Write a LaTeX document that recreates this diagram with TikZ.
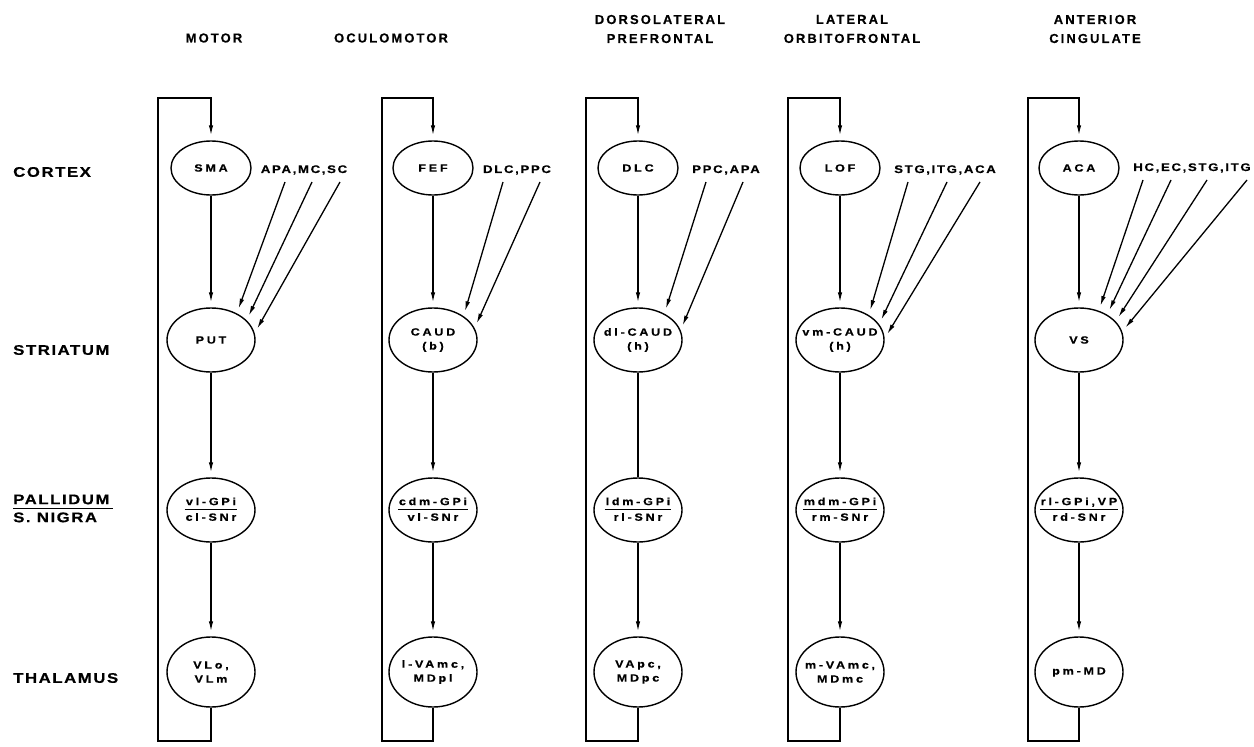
\documentclass[tikz,border=0pt]{standalone}
\usepackage{fontspec}
\setmainfont{Liberation Sans}
% lettering: wide, tracked, heavy sans capitals
\newfontfamily\titlefont{Liberation Sans Bold}[LetterSpace=16,FakeBold=0.4]
\newfontfamily\rowfont{Liberation Sans Bold}[FakeStretch=1.2,LetterSpace=11,FakeBold=0.5]
\newfontfamily\inlfont{Liberation Sans Bold}[FakeStretch=1.2,LetterSpace=26,FakeBold=0.5]
\newfontfamily\srcfont{Liberation Sans Bold}[FakeStretch=1.2,LetterSpace=15,FakeBold=0.5]
\usetikzlibrary{shapes.geometric,arrows.meta}

% two-part label with a rule between the parts
\newcommand\splitlabel[2]{{\setlength\arrayrulewidth{1.2pt}\renewcommand\arraystretch{1.05}%
  \begin{tabular}{@{\hspace{1pt}}c@{\hspace{1pt}}}#1\\[-1pt]\hline\rule{0pt}{11pt}#2\end{tabular}}}

\tikzset{
  region/.style={ellipse, draw, line width=1.4pt, inner xsep=-24pt, inner ysep=0pt, align=center,
    font=\inlfont\fontsize{10.5}{14}\selectfont},
  ctx/.style={region, minimum width=80pt, minimum height=54pt},
  strn/.style={region, minimum width=88pt, minimum height=64pt},
  paln/.style={region, minimum width=88pt, minimum height=64pt},
  thaln/.style={region, minimum width=88pt, minimum height=70pt},
  conn/.style={line width=1.3pt},
  arr/.style={conn, -{Latex[length=10pt,width=4.5pt]}, shorten >=5pt},
  rowlabel/.style={anchor=west, inner sep=0pt, font=\rowfont\fontsize{14}{16}\selectfont},
  coltitle/.style={inner sep=0pt, align=center, font=\titlefont\fontsize{13}{19}\selectfont},
  inlabel/.style={inner sep=0pt, font=\srcfont\fontsize{11}{13}\selectfont},
}

\begin{document}
\begin{tikzpicture}[x=1pt,y=-1pt]
\useasboundingbox (0,0) rectangle (1254,747);

% column titles
\node[coltitle] (h1) at (214,38) {MOTOR};
\node[coltitle] (h2) at (391,38) {OCULOMOTOR};
\node[coltitle] (h3) at (660,29) {DORSOLATERAL\\PREFRONTAL};
\node[coltitle] (h4) at (852,29) {LATERAL\\ORBITOFRONTAL};
\node[coltitle] (h5) at (1095,29) {ANTERIOR\\CINGULATE};

% row labels
\node[rowlabel] (r1) at (13,172) {CORTEX};
\node[rowlabel] (r2) at (13,350) {STRIATUM};
\node[rowlabel] (r3) at (13,510) {{\setlength\arrayrulewidth{1.2pt}\begin{tabular}{@{}l@{\hspace{3pt}}}PALLIDUM\\[-1pt]\hline\rule{0pt}{13pt}S. NIGRA\end{tabular}}};
\node[rowlabel] (r4) at (13,678) {THALAMUS};

% ---------- motor circuit ----------
\node[ctx]   (c1) at (211,168) {SMA};
\node[strn]  (s1) at (211,340) {PUT};
\node[paln]  (p1) at (211,510) {\splitlabel{vl-GPi}{cl-SNr}};
\node[thaln] (t1) at (211,672) {VLo,\\VLm};
\node[inlabel] (i1) at (304,170) {APA,MC,SC};
\coordinate (i1a) at (285,182);
\coordinate (i1b) at (312,182);
\coordinate (i1c) at (340,182);
\coordinate (l1b) at (158,741);
\coordinate (l1t) at (158,98);
\draw[arr] (c1) -- (s1);
\draw[arr] (s1) -- (p1);
\draw[arr] (p1) -- (t1);
\draw[arr] (t1) -- (t1 |- l1b) -- (l1b) -- (l1t) -| (c1);
\draw[arr] (i1a) -- (s1.46);
\draw[arr] (i1b) -- (s1.29);
\draw[arr] (i1c) -- (s1.9);

% ---------- oculomotor circuit ----------
\node[ctx]   (c2) at (433,168) {FEF};
\node[strn]  (s2) at (433,340) {CAUD\\(b)};
\node[paln]  (p2) at (433,510) {\splitlabel{cdm-GPi}{vl-SNr}};
\node[thaln] (t2) at (433,672) {l-VAmc,\\MDpl};
\node[inlabel] (i2) at (517,170) {DLC,PPC};
\coordinate (i2a) at (503,182);
\coordinate (i2b) at (540,182);
\coordinate (l2b) at (382,741);
\coordinate (l2t) at (382,98);
\draw[arr] (c2) -- (s2);
\draw[arr] (s2) -- (p2);
\draw[arr] (p2) -- (t2);
\draw[arr] (t2) -- (t2 |- l2b) -- (l2b) -- (l2t) -| (c2);
\draw[arr] (i2a) -- (s2.38);
\draw[arr] (i2b) -- (s2.16);

% ---------- dorsolateral prefrontal circuit ----------
\node[ctx]   (c3) at (638,168) {DLC};
\node[strn]  (s3) at (638,340) {dl-CAUD\\(h)};
\node[paln]  (p3) at (638,510) {\splitlabel{ldm-GPi}{rl-SNr}};
\node[thaln] (t3) at (638,672) {VApc,\\MDpc};
\node[inlabel] (i3) at (726,170) {PPC,APA};
\coordinate (i3a) at (706,182);
\coordinate (i3b) at (743,182);
\coordinate (l3b) at (586,741);
\coordinate (l3t) at (586,98);
\draw[arr] (c3) -- (s3);
\draw[conn] (s3) -- (p3);
\draw[arr] (p3) -- (t3);
\draw[arr] (t3) -- (t3 |- l3b) -- (l3b) -- (l3t) -| (c3);
\draw[arr] (i3a) -- (s3.45);
\draw[arr] (i3b) -- (s3.13);

% ---------- lateral orbitofrontal circuit ----------
\node[ctx]   (c4) at (840,168) {LOF};
\node[strn]  (s4) at (840,340) {vm-CAUD\\(h)};
\node[paln]  (p4) at (840,510) {\splitlabel{mdm-GPi}{rm-SNr}};
\node[thaln] (t4) at (840,672) {m-VAmc,\\MDmc};
\node[inlabel] (i4) at (945,170) {STG,ITG,ACA};
\coordinate (i4a) at (908,182);
\coordinate (i4b) at (947,182);
\coordinate (i4c) at (980,182);
\coordinate (l4b) at (788,741);
\coordinate (l4t) at (788,98);
\draw[arr] (c4) -- (s4);
\draw[arr] (s4) -- (p4);
\draw[arr] (p4) -- (t4);
\draw[arr] (t4) -- (t4 |- l4b) -- (l4b) -- (l4t) -| (c4);
\draw[arr] (i4a) -- (s4.41);
\draw[arr] (i4b) -- (s4.22);
\draw[arr] (i4c) -- (s4.2);

% ---------- anterior cingulate circuit ----------
\node[ctx]   (c5) at (1079,168) {ACA};
\node[strn]  (s5) at (1079,340) {VS};
\node[paln]  (p5) at (1079,510) {\splitlabel{rl-GPi,VP}{rd-SNr}};
\node[thaln] (t5) at (1079,672) {pm-MD};
\node[inlabel] (i5) at (1192,168) {HC,EC,STG,ITG};
\coordinate (i5a) at (1143,180);
\coordinate (i5b) at (1171,180);
\coordinate (i5c) at (1207,180);
\coordinate (i5d) at (1247,180);
\coordinate (l5b) at (1028,741);
\coordinate (l5t) at (1028,98);
\draw[arr] (c5) -- (s5);
\draw[arr] (s5) -- (p5);
\draw[arr] (p5) -- (t5);
\draw[arr] (t5) -- (t5 |- l5b) -- (l5b) -- (l5t) -| (c5);
\draw[arr] (i5a) -- (s5.56);
\draw[arr] (i5b) -- (s5.42);
\draw[arr] (i5c) -- (s5.27);
\draw[arr] (i5d) -- (s5.11);
\end{tikzpicture}
\end{document}
